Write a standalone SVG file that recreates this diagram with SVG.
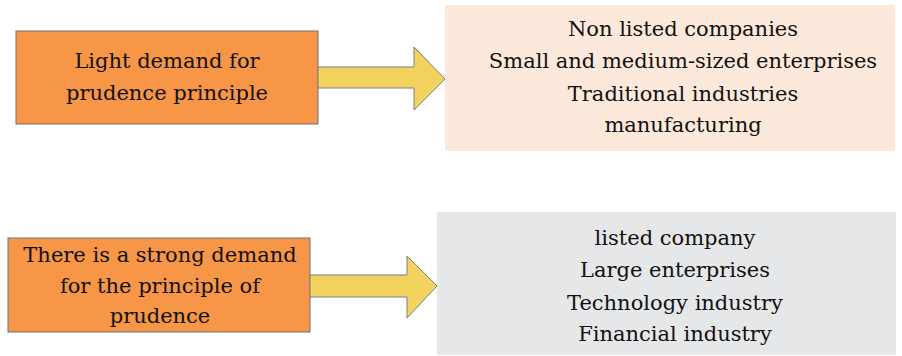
<svg xmlns="http://www.w3.org/2000/svg" width="902" height="356" viewBox="0 0 902 356">
<style>
.src{fill:#F79646;stroke:#6E7079;stroke-width:1}
.arr{fill:#F2D35E;stroke:#7F7F7F;stroke-width:1}
</style>
<rect width="902" height="356" fill="#fff"/>
<g font-family="DejaVu Serif, serif" font-size="21" fill="#111" text-anchor="middle">
<g id="box1">
<rect class="src" x="16" y="31" width="302" height="93"/>
<text x="167" y="68">Light demand for</text>
<text x="167" y="100">prudence principle</text>
</g>
<g id="out1">
<rect x="445" y="5" width="450" height="146" fill="#FDE9DC"/>
<text x="683" y="36">Non listed companies</text>
<text x="683" y="68">Small and medium-sized enterprises</text>
<text x="683" y="101">Traditional industries</text>
<text x="683" y="132">manufacturing</text>
</g>
<g id="box2">
<rect class="src" x="8" y="238" width="302" height="94"/>
<text x="160" y="262">There is a strong demand</text>
<text x="160" y="293">for the principle of</text>
<text x="160" y="323">prudence</text>
</g>
<g id="out2">
<rect x="437" y="212" width="459" height="143" fill="#E6E7E9"/>
<text x="675" y="245">listed company</text>
<text x="675" y="277">Large enterprises</text>
<text x="675" y="310">Technology industry</text>
<text x="675" y="341">Financial industry</text>
</g>
</g>
<g id="connectors">
<path class="arr" d="M318,67 L414,67 L414,47 L445,79 L414,110 L414,88 L318,88 Z"/>
<path class="arr" d="M310,275 L407,275 L407,256 L437,286 L407,318 L407,297 L310,297 Z"/>
</g>
</svg>
